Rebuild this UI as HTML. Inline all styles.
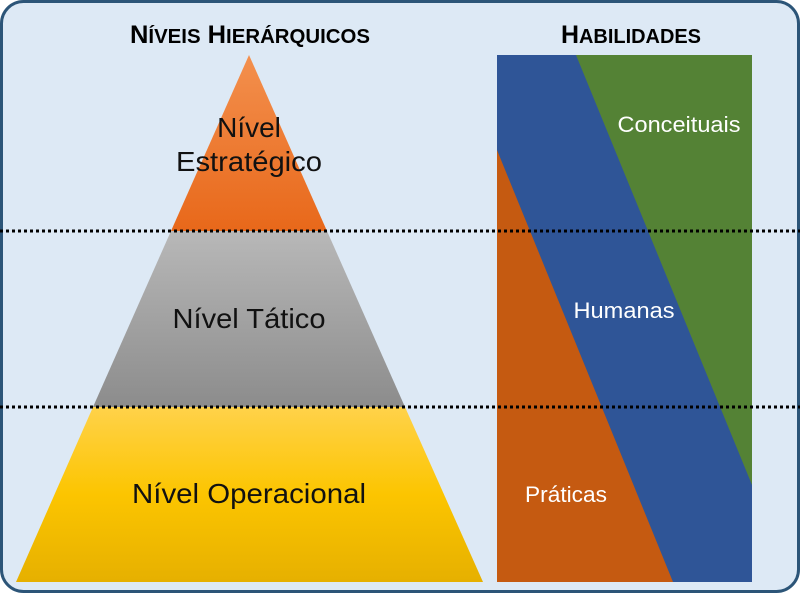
<!DOCTYPE html>
<html><head><meta charset="utf-8"><style>
body{margin:0;background:#fff}
svg{display:block}
text{font-family:"Liberation Sans",sans-serif}
</style></head><body>
<svg width="800" height="593" viewBox="0 0 800 593" xmlns="http://www.w3.org/2000/svg">
<defs>
<linearGradient id="go" x1="0" y1="0" x2="0" y2="1"><stop offset="0" stop-color="#f3904e"/><stop offset="1" stop-color="#e8681a"/></linearGradient>
<linearGradient id="gg" x1="0" y1="0" x2="0" y2="1"><stop offset="0" stop-color="#b8b8b8"/><stop offset="1" stop-color="#8c8c8c"/></linearGradient>
<linearGradient id="gy" x1="0" y1="0" x2="0" y2="1"><stop offset="0" stop-color="#ffd24a"/><stop offset="0.5" stop-color="#fcc500"/><stop offset="1" stop-color="#e6b000"/></linearGradient>
</defs>
<rect x="1.5" y="1.5" width="797" height="590" rx="22" fill="#dde9f5" stroke="#2c5578" stroke-width="3"/>
<text x="250" y="43" text-anchor="middle" font-weight="bold" font-size="25" fill="#000" textLength="240" lengthAdjust="spacingAndGlyphs">N<tspan font-size="20">ÍVEIS</tspan> H<tspan font-size="20">IERÁRQUICOS</tspan></text>
<text x="631" y="43" text-anchor="middle" font-weight="bold" font-size="25" fill="#000" textLength="140" lengthAdjust="spacingAndGlyphs">H<tspan font-size="20">ABILIDADES</tspan></text>
<polygon points="249,55 327,231 171,231" fill="url(#go)"/>
<polygon points="171,231 327,231 405,407 93,407" fill="url(#gg)"/>
<polygon points="93,407 405,407 483,582 16,582" fill="url(#gy)"/>
<rect x="497" y="55" width="255" height="527" fill="#c55a11"/>
<polygon points="497,55 752,55 752,582 673,582 497,150" fill="#2f5597"/>
<polygon points="576,55 752,55 752,485" fill="#548235"/>
<text x="249" y="137" text-anchor="middle" font-size="28" fill="#111">Nível</text>
<text x="249" y="171" text-anchor="middle" font-size="28" fill="#111" textLength="146" lengthAdjust="spacingAndGlyphs">Estratégico</text>
<text x="249" y="328" text-anchor="middle" font-size="28" fill="#111" textLength="153" lengthAdjust="spacingAndGlyphs">Nível Tático</text>
<text x="249" y="503" text-anchor="middle" font-size="28" fill="#111" textLength="234" lengthAdjust="spacingAndGlyphs">Nível Operacional</text>
<text x="679" y="132" text-anchor="middle" font-size="22" fill="#fff" textLength="123" lengthAdjust="spacingAndGlyphs">Conceituais</text>
<text x="624" y="318" text-anchor="middle" font-size="22" fill="#fff" textLength="101" lengthAdjust="spacingAndGlyphs">Humanas</text>
<text x="566" y="502" text-anchor="middle" font-size="22" fill="#fff" textLength="82" lengthAdjust="spacingAndGlyphs">Práticas</text>
<line x1="0" y1="231" x2="800" y2="231" stroke="#000" stroke-width="3" stroke-dasharray="3,3"/>
<line x1="0" y1="407" x2="800" y2="407" stroke="#000" stroke-width="3" stroke-dasharray="3,3"/>
</svg>
</body></html>
